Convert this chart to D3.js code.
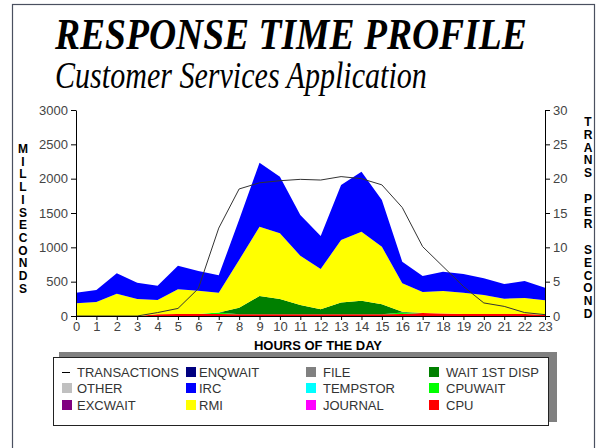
<!DOCTYPE html>
<html>
<head>
<style>
    body { margin: 0; background: #fff; }
    svg text { font-family: "Liberation Sans", Arial, sans-serif; }
</style>
</head>
<body>
<svg width="600" height="448"></svg>
<script src="https://d3js.org/d3.v7.min.js"></script>
<script>
    // hours 0..23
    var hours = d3.range(0, 24);

    // stacked components, milliseconds (bottom to top)
    var cpu      = [0, 0, 0, 0, 25, 30, 30, 30, 25, 25, 25, 25, 25, 25, 25, 25, 30, 45, 35, 30, 30, 30, 30, 20];
    var cpuwait  = [0, 0, 0, 0, 0, 0, 0, 20, 0, 0, 0, 0, 0, 0, 0, 0, 20, 0, 0, 0, 0, 0, 0, 0];
    var wait1st  = [0, 0, 0, 0, 0, 0, 0, 0, 95, 265, 223, 135, 72, 170, 198, 145, 13, 0, 0, 0, 0, 0, 0, 0];
    var journal  = hours.map(function () { return 0; });
    var tempstor = hours.map(function () { return 0; });
    var file     = hours.map(function () { return 0; });
    var rmi      = [185, 204, 325, 248, 208, 358, 339, 290, 695, 1011, 956, 716, 587, 912, 1005, 839, 413, 304, 329, 310, 276, 222, 232, 210];
    var irc      = [154, 175, 297, 237, 208, 345, 286, 252, 585, 932, 825, 595, 481, 801, 874, 680, 315, 233, 281, 271, 243, 214, 248, 180];
    var enqwait  = hours.map(function () { return 0; });
    var excwait  = hours.map(function () { return 0; });
    var other    = hours.map(function () { return 0; });

    // transactions per second (right axis)
    var transactions = [0, 0, 0, 0, 0.5, 1.1, 4.0, 12.8, 18.5, 19.4, 19.7, 19.9, 19.8, 20.3, 20.0, 19.1, 15.8, 10.1, 7.2, 4.3, 1.9, 1.4, 0.5, 0.2];

    var leftTicks = [0, 500, 1000, 1500, 2000, 2500, 3000];
    var rightTicks = [0, 5, 10, 15, 20, 25, 30];

    var series = [
        { key: 'CPU', values: cpu, color: '#ff0000' },
        { key: 'CPUWAIT', values: cpuwait, color: '#00ff00' },
        { key: 'WAIT 1ST DISP', values: wait1st, color: '#008000' },
        { key: 'JOURNAL', values: journal, color: '#ff00ff' },
        { key: 'TEMPSTOR', values: tempstor, color: '#00ffff' },
        { key: 'FILE', values: file, color: '#808080' },
        { key: 'RMI', values: rmi, color: '#ffff00' },
        { key: 'IRC', values: irc, color: '#0000ff' },
        { key: 'ENQWAIT', values: enqwait, color: '#000080' },
        { key: 'EXCWAIT', values: excwait, color: '#800080' },
        { key: 'OTHER', values: other, color: '#c0c0c0' }
    ];

    // legend layout, column by column
    var legendItems = [
        { key: 'TRANSACTIONS', line: true }, { key: 'OTHER' }, { key: 'EXCWAIT' },
        { key: 'ENQWAIT' }, { key: 'IRC' }, { key: 'RMI' },
        { key: 'FILE' }, { key: 'TEMPSTOR' }, { key: 'JOURNAL' },
        { key: 'WAIT 1ST DISP' }, { key: 'CPUWAIT' }, { key: 'CPU' }
    ];

    var svg = d3.select('svg');
    var colorOf = {};
    series.forEach(function (s) { colorOf[s.key] = s.color; });

    // outer frame
    svg.append('rect')
        .attr('x', 12.5).attr('y', 4.5)
        .attr('width', 582).attr('height', 460)
        .attr('fill', 'none')
        .attr('stroke', '#4a5060')
        .attr('stroke-width', 1.2);

    // titles: narrow serif, so squeeze horizontally after measuring
    function title(str, px, py, size, wantW, wantH, bold) {
        var t = svg.append('text')
            .style('font-family', '"Liberation Serif", "Times New Roman", serif')
            .style('font-size', size + 'px')
            .style('font-weight', bold ? 'bold' : 'normal')
            .style('font-style', 'italic')
            .text(str);
        var w = t.node().getComputedTextLength();
        t.attr('transform', 'translate(' + px + ',' + py + ') scale(' + (wantW / w) + ',' + (wantH / size) + ')');
    }
    title('RESPONSE TIME PROFILE', 55, 49, 30, 472, 45, true);
    title('Customer Services Application', 55, 88, 30, 372, 37, false);

    var x = d3.scaleLinear().domain([0, 23]).range([76, 545]);
    var y = d3.scaleLinear().domain([0, 3000]).range([316, 110]);
    var y2 = d3.scaleLinear().domain([0, 30]).range([316, 110]);

    var table = hours.map(function (h, i) {
        var row = { hour: h };
        series.forEach(function (s) { row[s.key] = s.values[i]; });
        return row;
    });

    var stack = d3.stack().keys(series.map(function (s) { return s.key; }));
    var layers = stack(table);

    var area = d3.area()
        .x(function (d) { return x(d.data.hour); })
        .y0(function (d) { return y(d[0]); })
        .y1(function (d) { return y(d[1]); });

    svg.append('g').selectAll('path')
        .data(layers)
        .enter().append('path')
        .attr('fill', function (d) { return colorOf[d.key]; })
        .attr('d', area);

    var line = d3.line()
        .x(function (d, i) { return x(hours[i]); })
        .y(function (d) { return y2(d); });

    svg.append('path')
        .datum(transactions)
        .attr('fill', 'none')
        .attr('stroke', '#333')
        .attr('stroke-width', 1)
        .attr('d', line);

    // axes
    function styleAxis(g) {
        g.select('.domain').attr('stroke', '#000');
        g.selectAll('.tick line').attr('stroke', '#000');
        g.selectAll('.tick text')
            .attr('fill', '#444')
            .style('font-family', '"Liberation Sans", Arial, sans-serif')
            .style('font-size', '13px');
    }

    svg.append('g')
        .attr('transform', 'translate(76,0)')
        .call(d3.axisLeft(y).tickValues(leftTicks).tickFormat(d3.format('d')).tickSize(5).tickSizeOuter(0).tickPadding(3))
        .call(styleAxis);

    svg.append('g')
        .attr('transform', 'translate(545,0)')
        .call(d3.axisRight(y2).tickValues(rightTicks).tickFormat(d3.format('d')).tickSize(5).tickSizeOuter(0).tickPadding(3))
        .call(styleAxis);

    svg.append('g')
        .attr('transform', 'translate(0,316)')
        .call(d3.axisBottom(x).tickValues(hours).tickFormat(d3.format('d')).tickSize(4).tickSizeOuter(0).tickPadding(2))
        .call(styleAxis);

    svg.append('text')
        .attr('x', 318).attr('y', 350)
        .attr('text-anchor', 'middle')
        .style('font-size', '13px').style('font-weight', 'bold')
        .text('HOURS OF THE DAY');

    // vertical stacked axis titles
    function stacked(label, cx, top, step) {
        svg.append('g').selectAll('text')
            .data(label.split(''))
            .enter().append('text')
            .attr('x', cx)
            .attr('y', function (d, i) { return top + i * step; })
            .attr('text-anchor', 'middle')
            .style('font-size', '12px').style('font-weight', 'bold')
            .text(function (d) { return d; });
    }
    stacked('MILLISECONDS', 23, 153, 12.7);
    stacked('TRANS PER SECOND', 588, 126, 12.8);

    // legend box with shadow
    svg.append('rect')
        .attr('x', 59).attr('y', 352)
        .attr('width', 498).attr('height', 70)
        .attr('fill', '#808080');
    svg.append('rect')
        .attr('x', 53.5).attr('y', 357.5)
        .attr('width', 495).attr('height', 68)
        .attr('fill', '#fff')
        .attr('stroke', '#222');

    var colX = [62, 186, 306, 429];
    var textX = [77, 199, 323, 446];
    var rowY = [372, 388, 405];

    var leg = svg.append('g').selectAll('g')
        .data(legendItems)
        .enter().append('g')
        .attr('transform', function (d, i) {
            return 'translate(0,' + rowY[i % 3] + ')';
        });

    leg.each(function (d, i) {
        var g = d3.select(this);
        var c = Math.floor(i / 3);
        if (d.line) {
            g.append('line')
                .attr('x1', colX[c]).attr('x2', colX[c] + 8)
                .attr('y1', 0.5).attr('y2', 0.5)
                .attr('stroke', '#000');
        } else {
            g.append('rect')
                .attr('x', colX[c]).attr('y', -5)
                .attr('width', 10).attr('height', 10)
                .attr('fill', colorOf[d.key]);
        }
        g.append('text')
            .attr('x', textX[c]).attr('y', 5)
            .attr('fill', '#333')
            .style('font-size', '13px')
            .text(d.key);
    });
</script>
</body>
</html>
